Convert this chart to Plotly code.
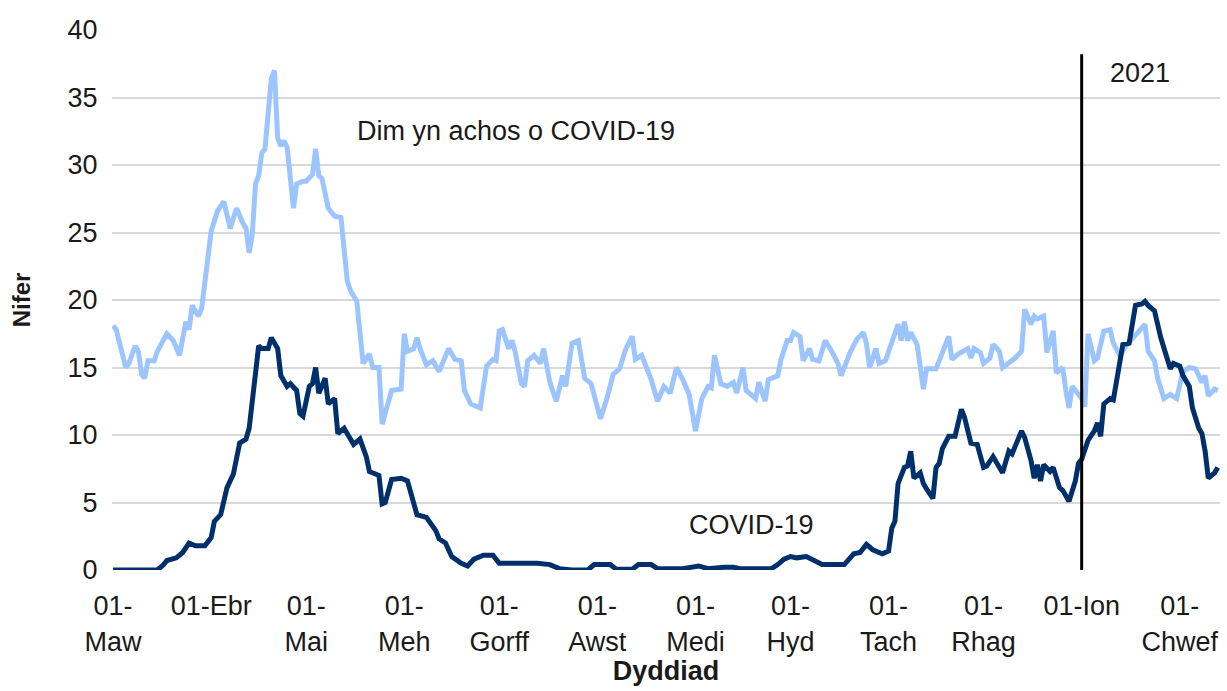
import pandas as pd
import plotly.graph_objects as go

START = pd.Timestamp("2020-03-01")

# Non-COVID series (day offset from 01-Mar-2020, value)
noncovid_days = [0, 1, 4, 5, 7, 8, 9, 10, 11, 13, 14, 17, 19, 21, 23, 24, 25, 27, 28, 30,
                 31, 33, 35, 37, 39, 41, 42, 43, 44, 45, 46, 47, 48, 50, 51, 52, 53, 54, 55, 57,
                 58, 60, 61, 63, 64, 65, 66, 68, 70, 72, 74, 75, 77, 79, 81, 82, 84, 85, 87, 88,
                 91, 92, 93, 95, 96, 97, 99, 101, 103, 106, 108, 110, 111, 113, 116, 118, 120, 121, 122, 123,
                 125, 126, 127, 129, 130, 131, 133, 135, 136, 138, 140, 142, 143, 145, 147, 149, 151, 153, 154, 156,
                 158, 160, 162, 164, 165, 167, 170, 172, 174, 176, 178, 180, 182, 184, 186, 188, 189, 190, 192, 194,
                 196, 197, 199, 200, 202, 203, 204, 206, 207, 210, 211, 213, 214, 215, 217, 218, 220, 221, 223, 225,
                 227, 229, 230, 232, 233, 235, 237, 238, 239, 241, 242, 244, 246, 248, 249, 250, 251, 252, 254, 255,
                 256, 257, 260, 262, 264, 265, 267, 270, 271, 272, 274, 275, 277, 278, 280, 281, 283, 285, 287, 288,
                 290, 291, 292, 294, 295, 296, 297, 298, 300, 301, 302, 303, 305, 306, 307, 308, 310, 311, 313, 315,
                 316, 318, 320, 322, 324, 326, 327, 329, 330, 332, 334, 336, 338, 340, 342, 344, 345, 346, 348, 349]
noncovid_vals = [18.1, 17.8, 15.0, 15.3, 16.6, 16.2, 14.5, 14.2, 15.5, 15.5, 16.2, 17.5, 17.0, 15.9, 18.4, 17.8, 19.6, 18.8, 19.4, 22.9,
                 25.1, 26.6, 27.3, 25.3, 26.8, 25.7, 25.3, 23.5, 24.9, 28.6, 29.2, 30.9, 31.2, 36.4, 37.0, 32.0, 31.4, 31.8, 31.3, 26.8,
                 28.6, 28.8, 28.8, 29.3, 31.2, 29.2, 29.0, 26.8, 26.2, 26.1, 21.4, 20.7, 19.9, 15.3, 16.0, 15.0, 15.0, 10.8, 12.5, 13.3,
                 13.4, 17.5, 16.2, 16.4, 17.2, 16.4, 15.2, 15.5, 14.7, 16.4, 15.6, 15.5, 13.3, 12.3, 12.0, 15.1, 15.6, 15.5, 17.7, 17.8,
                 16.4, 17.0, 16.2, 13.8, 13.6, 15.5, 15.9, 15.3, 16.4, 13.9, 12.5, 14.4, 13.6, 16.8, 17.0, 14.2, 13.8, 12.0, 11.2, 12.7,
                 14.5, 14.9, 16.4, 17.3, 15.6, 15.9, 14.1, 12.5, 13.6, 13.1, 15.0, 14.1, 13.0, 10.3, 12.7, 13.6, 13.5, 15.9, 13.8, 13.6,
                 13.9, 13.1, 15.0, 13.3, 12.9, 12.7, 13.9, 12.5, 14.1, 14.4, 15.6, 17.0, 17.0, 17.6, 17.3, 15.5, 16.4, 15.6, 15.5, 17.0,
                 16.2, 15.3, 14.4, 15.6, 16.2, 17.1, 17.6, 16.8, 15.0, 16.4, 15.3, 15.5, 17.0, 18.2, 17.0, 18.4, 17.0, 17.6, 16.7, 15.1,
                 13.4, 14.9, 14.9, 16.1, 17.3, 15.6, 16.0, 16.4, 15.7, 16.4, 16.1, 15.3, 15.7, 16.7, 16.2, 15.0, 15.3, 15.7, 16.2, 19.3,
                 18.2, 18.8, 18.6, 18.8, 16.1, 17.0, 17.7, 14.6, 15.0, 13.3, 12.0, 13.6, 13.0, 12.7, 12.1, 17.5, 15.5, 15.7, 17.7, 17.8,
                 16.8, 15.9, 16.6, 17.1, 17.7, 18.2, 16.2, 15.5, 14.2, 12.7, 13.0, 12.7, 14.7, 15.0, 14.9, 13.9, 14.4, 12.9, 13.4, 13.3]

# COVID-19 series
covid_days = [0, 14, 16, 17, 20, 22, 24, 26, 29, 31, 32, 34, 36, 38, 40, 42, 43, 45, 46, 47,
              49, 50, 52, 53, 55, 56, 58, 59, 60, 62, 63, 64, 65, 67, 68, 70, 71, 73, 75, 76,
              78, 80, 81, 84, 85, 86, 88, 91, 93, 95, 96, 99, 102, 103, 105, 107, 110, 112, 114, 117,
              120, 122, 126, 130, 134, 138, 141, 145, 150, 152, 157, 159, 164, 166, 170, 172, 180, 185, 188, 193,
              196, 198, 208, 210, 212, 214, 216, 219, 221, 224, 231, 234, 236, 238, 240, 243, 245, 246, 247, 248,
              250, 251, 252, 253, 255, 256, 257, 259, 260, 261, 262, 264, 266, 268, 269, 271, 273, 275, 276, 278,
              281, 283, 284, 286, 287, 288, 290, 291, 292, 293, 294, 296, 297, 299, 300, 302, 304, 305, 306, 308,
              310, 311, 312, 313, 315, 316, 318, 319, 321, 322, 323, 325, 326, 327, 329, 331, 332, 334, 335, 337,
              338, 340, 341, 343, 344, 345, 346, 348, 349]
covid_vals = [0.0, 0.0, 0.4, 0.7, 0.9, 1.3, 2.0, 1.8, 1.8, 2.4, 3.6, 4.1, 6.1, 7.1, 9.4, 9.7, 10.5, 14.2, 16.6, 16.4,
              16.4, 17.2, 16.4, 14.4, 13.6, 13.8, 13.3, 11.6, 11.4, 13.6, 13.8, 15.0, 13.1, 14.2, 12.3, 12.7, 10.1, 10.5, 9.7, 9.3,
              9.7, 8.4, 7.3, 7.0, 4.9, 5.0, 6.7, 6.8, 6.6, 4.9, 4.1, 3.9, 2.9, 2.3, 2.0, 1.0, 0.5, 0.3, 0.8, 1.1,
              1.1, 0.5, 0.5, 0.5, 0.5, 0.4, 0.1, 0.0, 0.0, 0.4, 0.4, 0.05, 0.05, 0.4, 0.4, 0.1, 0.1, 0.3, 0.1, 0.2,
              0.2, 0.1, 0.1, 0.4, 0.8, 1.0, 0.9, 1.0, 0.8, 0.4, 0.4, 1.2, 1.3, 1.9, 1.5, 1.2, 1.4, 3.1, 3.6, 6.4,
              7.6, 7.7, 8.8, 6.8, 7.2, 6.4, 6.0, 5.3, 7.6, 7.9, 9.0, 9.9, 9.9, 11.9, 11.3, 9.4, 9.3, 7.6, 7.7, 8.4,
              7.2, 8.8, 8.6, 9.6, 10.3, 9.8, 8.1, 6.8, 7.8, 6.6, 7.8, 7.3, 7.6, 6.1, 5.9, 5.1, 6.6, 7.9, 8.2, 9.6,
              10.3, 10.9, 9.9, 12.3, 12.7, 12.6, 15.5, 16.7, 16.8, 18.4, 19.6, 19.7, 19.9, 19.6, 19.2, 17.2, 16.4, 14.9, 15.3, 15.1,
              14.4, 13.6, 12.0, 10.5, 10.1, 8.8, 6.8, 7.2, 7.6]

tick_dates = ["2020-03-01", "2020-04-01", "2020-05-01", "2020-06-01", "2020-07-01", "2020-08-01",
              "2020-09-01", "2020-10-01", "2020-11-01", "2020-12-01", "2021-01-01", "2021-02-01"]
tick_labels = ["01-<br>Maw", "01-Ebr", "01-<br>Mai", "01-<br>Meh", "01-<br>Gorff", "01-<br>Awst",
               "01-<br>Medi", "01-<br>Hyd", "01-<br>Tach", "01-<br>Rhag", "01-Ion", "01-<br>Chwef"]

noncovid_dates = [START + pd.Timedelta(days=d) for d in noncovid_days]
covid_dates = [START + pd.Timedelta(days=d) for d in covid_days]

FONT = "Liberation Sans, Arial, sans-serif"
TXT = "#1a1a1a"
FS = 27

fig = go.Figure()
fig.add_trace(go.Scatter(x=noncovid_dates, y=noncovid_vals, mode="lines",
                         line=dict(color="#9cc5ff", width=5), name="Dim yn achos o COVID-19"))
fig.add_trace(go.Scatter(x=covid_dates, y=covid_vals, mode="lines",
                         line=dict(color="#00306b", width=5), name="COVID-19"))

fig.add_shape(type="line", xref="x", yref="y", x0="2021-01-01", x1="2021-01-01", y0=0, y1=38.2,
              line=dict(color="black", width=3))

fig.add_annotation(x=START + pd.Timedelta(days=76.4), y=32.5, text="Dim yn achos o COVID-19",
                   showarrow=False, xanchor="left", yanchor="middle", font=dict(size=FS, color=TXT, family=FONT))
fig.add_annotation(x=START + pd.Timedelta(days=201.8), y=3.3, text="COVID-19",
                   showarrow=False, xanchor="center", yanchor="middle", font=dict(size=FS, color=TXT, family=FONT))
fig.add_annotation(x=START + pd.Timedelta(days=324.3), y=36.8, text="2021",
                   showarrow=False, xanchor="center", yanchor="middle", font=dict(size=FS, color=TXT, family=FONT))

fig.update_layout(
    width=1227, height=691,
    margin=dict(l=112, r=7, t=30, b=121),
    paper_bgcolor="white", plot_bgcolor="white",
    showlegend=False,
    font=dict(family=FONT, size=FS, color=TXT),
)
fig.update_xaxes(
    automargin=False,
    range=[START - pd.Timedelta(hours=8), START + pd.Timedelta(days=349.7)],
    tickvals=tick_dates, ticktext=tick_labels,
    showgrid=False, zeroline=False, showline=False,
    ticks="outside", ticklen=12, tickcolor="rgba(0,0,0,0)",
    tickfont=dict(size=FS, color=TXT, family=FONT),
    title=dict(text="<b>Dyddiad</b>", font=dict(size=FS, color=TXT, family=FONT), standoff=4),
)
fig.update_yaxes(
    automargin=False,
    range=[0, 40], dtick=5,
    showgrid=True, gridcolor="#d9d9d9", gridwidth=2,
    zeroline=False, showline=False,
    ticks="outside", ticklen=8, tickcolor="rgba(0,0,0,0)",
    tickfont=dict(size=FS, color=TXT, family=FONT),
    title=dict(text="<b>Nifer</b>", font=dict(size=24, color=TXT, family=FONT), standoff=30),
)

fig.write_html("out.html", config={"displayModeBar": False},
               post_script="document.body.style.margin='0px';")
